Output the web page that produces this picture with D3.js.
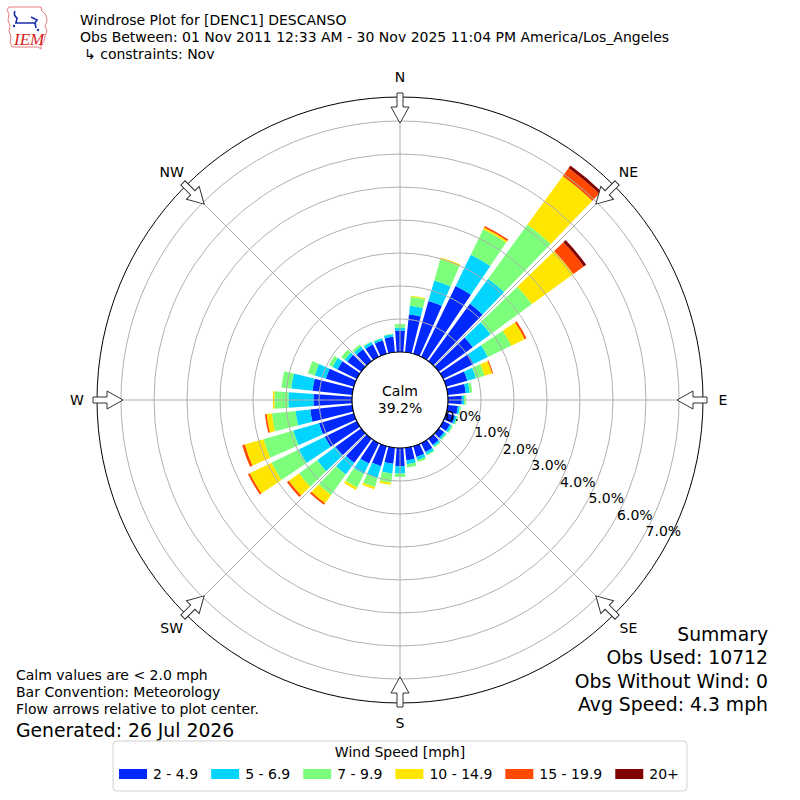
<!DOCTYPE html>
<html>
<head>
<script src="https://d3js.org/d3.v7.min.js"></script>
<style>
  body { margin: 0; background: #fff; }
  svg { font-family: "DejaVu Sans", sans-serif; }
</style>
</head>
<body>
<svg width="800" height="800"></svg>
<script>
const width = 800, height = 800;

// wind directions (deg, meteorological convention), one bar each
const directions = d3.range(0, 360, 10);
const speedBins = ["2 - 4.9", "5 - 6.9", "7 - 9.9", "10 - 14.9", "15 - 19.9", "20+"];
const binColors = ["#0028ff", "#00d4ff", "#7cff7a", "#ffe600", "#ff4800", "#800000"];

// percent of observations per direction for each speed bin
const bin2to5 = [0.65, 1.15, 1.67, 2.39, 2.15, 1.27, 1.03, 0.67, 0.55, 0.42, 0.31, 0.28,
                 0.23, 0.20, 0.23, 0.30, 0.34, 0.38, 0.55, 0.49, 0.63, 0.69, 0.90, 0.96,
                 1.08, 1.10, 1.28, 1.17, 1.21, 0.88, 0.65, 0.52, 0.45, 0.42, 0.42, 0.47];
const bin5to7 = [0.09, 0.27, 0.64, 1.05, 0.94, 0.67, 0.48, 0.27, 0.12, 0.07, 0.06, 0.06,
                 0.06, 0.06, 0.06, 0.08, 0.10, 0.12, 0.22, 0.30, 0.37, 0.35, 0.44, 0.69,
                 0.88, 0.81, 0.45, 0.76, 0.65, 0.35, 0.17, 0.10, 0.10, 0.08, 0.07, 0.08];
const bin7to10 = [0.11, 0.27, 0.67, 0.86, 2.03, 1.55, 0.79, 0.27, 0.08, 0.06, 0.03, 0.04,
                  0.04, 0.04, 0.04, 0.04, 0.06, 0.10, 0.11, 0.28, 0.29, 0.46, 0.76, 0.68,
                  0.92, 0.94, 0.72, 0.42, 0.30, 0.22, 0.12, 0.13, 0.07, 0.03, 0.02, 0.02];
const bin10to15 = [0, 0.03, 0.06, 0.06, 1.82, 1.55, 0.45, 0.24, 0, 0, 0, 0,
                   0, 0, 0, 0, 0, 0, 0, 0.06, 0.07, 0.08, 0.31, 0.38,
                   0.73, 0.59, 0.16, 0.05, 0, 0, 0, 0, 0, 0, 0, 0];
const bin15to20 = [0, 0, 0, 0.05, 0.30, 0.39, 0.06, 0.03, 0, 0, 0, 0,
                   0, 0, 0, 0, 0, 0, 0, 0, 0, 0, 0.06, 0.07,
                   0.06, 0.08, 0.05, 0, 0, 0, 0, 0, 0, 0, 0, 0];
const bin20up = [0, 0, 0, 0, 0.09, 0.09, 0, 0, 0, 0, 0, 0,
                 0, 0, 0, 0, 0, 0, 0, 0, 0, 0, 0, 0,
                 0, 0, 0, 0, 0, 0, 0, 0, 0, 0, 0, 0];

const ringTicks = [0, 1, 2, 3, 4, 5, 6, 7];
const compassLabels = ["N", "NE", "E", "SE", "S", "SW", "W", "NW"];
const calmPercent = "39.2%";

const titleLines = [
  "Windrose Plot for [DENC1] DESCANSO",
  "Obs Between: 01 Nov 2011 12:33 AM - 30 Nov 2025 11:04 PM America/Los_Angeles",
  "\u21b3 constraints: Nov"
];
const noteLines = ["Calm values are < 2.0 mph", "Bar Convention: Meteorology", "Flow arrows relative to plot center."];
const generatedText = "Generated: 26 Jul 2026";
const summaryLines = ["Summary", "Obs Used: 10712", "Obs Without Wind: 0", "Avg Speed: 4.3 mph"];

const svg = d3.select("svg").attr("width", width).attr("height", height);

const cx = 400, cy = 400;
const outerRadius = 303;
const rad = d => d * Math.PI / 180;

// radius scale: 0% sits on the calm circle
const r = d3.scaleLinear().domain([0, 7]).range([48, 279]);

const binSeries = [bin2to5, bin5to7, bin7to10, bin10to15, bin15to20, bin20up];
const binKeys = speedBins.map((d, i) => "b" + i);
const rows = directions.map((dir, i) => {
  const row = { dir };
  binKeys.forEach((k, j) => row[k] = binSeries[j][i]);
  return row;
});
const stacked = d3.stack().keys(binKeys)(rows);

const plot = svg.append("g").attr("transform", `translate(${cx},${cy})`);

const halfWidth = rad(4);
const arc = d3.arc()
  .innerRadius(d => r(d[0]))
  .outerRadius(d => r(d[1]))
  .startAngle(d => rad(d.data.dir) - halfWidth)
  .endAngle(d => rad(d.data.dir) + halfWidth);

plot.selectAll(".layer")
  .data(stacked)
  .enter().append("g")
  .attr("fill", (d, i) => binColors[i])
  .selectAll("path")
  .data(d => d.filter(s => s[1] - s[0] > 0))
  .enter().append("path")
  .attr("d", arc);

// grid on top of the bars
plot.selectAll(".ring")
  .data(ringTicks.slice(1))
  .enter().append("circle")
  .attr("r", d => r(d))
  .attr("fill", "none")
  .attr("stroke", "#b0b0b0")
  .attr("stroke-width", 1);

plot.selectAll(".spoke")
  .data(d3.range(0, 360, 45))
  .enter().append("line")
  .attr("x1", d => r(0) * Math.sin(rad(d)))
  .attr("y1", d => -r(0) * Math.cos(rad(d)))
  .attr("x2", d => outerRadius * Math.sin(rad(d)))
  .attr("y2", d => -outerRadius * Math.cos(rad(d)))
  .attr("stroke", "#b0b0b0")
  .attr("stroke-width", 1);

plot.append("circle")
  .attr("r", r(0))
  .attr("fill", "#fff")
  .attr("stroke", "#000")
  .attr("stroke-width", 1.2);

plot.append("circle")
  .attr("r", outerRadius)
  .attr("fill", "none")
  .attr("stroke", "#000")
  .attr("stroke-width", 1);

// flow arrows pointing to the centre
plot.selectAll(".arrow")
  .data(d3.range(0, 360, 45))
  .enter().append("path")
  .attr("transform", d => `rotate(${d})`)
  .attr("d", "M-3,-307L3,-307L3,-293L9,-293L0,-277L-9,-293L-3,-293Z")
  .attr("fill", "#fff")
  .attr("stroke", "#333")
  .attr("stroke-width", 1);

plot.selectAll(".compass")
  .data(compassLabels)
  .enter().append("text")
  .attr("x", (d, i) => 323 * Math.sin(rad(i * 45)))
  .attr("y", (d, i) => -323 * Math.cos(rad(i * 45)))
  .attr("dy", "0.35em")
  .attr("text-anchor", "middle")
  .attr("font-size", 14)
  .text(d => d);

// radial tick labels along 120 deg
plot.selectAll(".rlabel")
  .data(ringTicks)
  .enter().append("text")
  .attr("x", d => r(d) * Math.sin(rad(120)) + 4)
  .attr("y", d => -r(d) * Math.cos(rad(120)) - 3.5)
  .attr("font-size", 14)
  .text(d => d3.format(".1f")(d) + "%");

plot.append("text")
  .attr("y", -4)
  .attr("text-anchor", "middle")
  .attr("font-size", 14)
  .text("Calm");
plot.append("text")
  .attr("y", 13)
  .attr("text-anchor", "middle")
  .attr("font-size", 14)
  .text(calmPercent);

// header
svg.selectAll(".title")
  .data(titleLines)
  .enter().append("text")
  .attr("x", (d, i) => i === 2 ? 84 : 80)
  .attr("y", (d, i) => 25 + i * 17)
  .attr("font-size", 14)
  .text(d => d);

// IEM logo (simplified)
const logo = svg.append("g");
logo.append("path")
  .attr("d", "M9,7L41,7L42,11L46,15L47,21L45,26L47,31L45,36L44,41L41,45L41,49L38,47L12,47L10,42L11,37L9,31L10,26L8,20L9,14L7,10Z")
  .attr("fill", "none")
  .attr("stroke", "#e06060")
  .attr("stroke-width", 0.8);
logo.append("path")
  .attr("d", "M15,11Q13,15 17,18L16,23M15,23L36,23M31,17L37,20L35,23M35,23L36,28")
  .attr("fill", "none")
  .attr("stroke", "#1a2fb0")
  .attr("stroke-width", 1.6);
logo.append("circle").attr("cx", 14).attr("cy", 26).attr("r", 1.2).attr("fill", "#1a2fb0");
logo.append("circle").attr("cx", 38).attr("cy", 30).attr("r", 1.2).attr("fill", "#1a2fb0");
logo.append("text")
  .attr("x", 14).attr("y", 45)
  .attr("font-family", "Liberation Serif, serif")
  .attr("font-style", "italic")
  .attr("font-size", 17)
  .attr("fill", "#d42020")
  .text("IEM");

// notes bottom-left
svg.selectAll(".note")
  .data(noteLines)
  .enter().append("text")
  .attr("x", 16)
  .attr("y", (d, i) => 680 + i * 17)
  .attr("font-size", 14)
  .text(d => d);
svg.append("text")
  .attr("x", 16).attr("y", 737)
  .attr("font-size", 18.8)
  .text(generatedText);

// summary bottom-right
svg.selectAll(".summary")
  .data(summaryLines)
  .enter().append("text")
  .attr("x", 768)
  .attr("y", (d, i) => 641 + i * 23.3)
  .attr("text-anchor", "end")
  .attr("font-size", 18.8)
  .text(d => d);

// legend
const legend = svg.append("g");
legend.append("rect")
  .attr("x", 113).attr("y", 741)
  .attr("width", 574).attr("height", 50)
  .attr("rx", 4)
  .attr("fill", "#fff")
  .attr("stroke", "#d0d0d0");
legend.append("text")
  .attr("x", 400).attr("y", 757)
  .attr("text-anchor", "middle")
  .attr("font-size", 14)
  .text("Wind Speed [mph]");

let lx = 119;
speedBins.forEach((label, i) => {
  legend.append("rect")
    .attr("x", lx).attr("y", 769)
    .attr("width", 28).attr("height", 10)
    .attr("fill", binColors[i]);
  const t = legend.append("text")
    .attr("x", lx + 34).attr("y", 779)
    .attr("font-size", 14)
    .text(label);
  lx += 34 + t.node().getComputedTextLength() + 13;
});
</script>
</body>
</html>
